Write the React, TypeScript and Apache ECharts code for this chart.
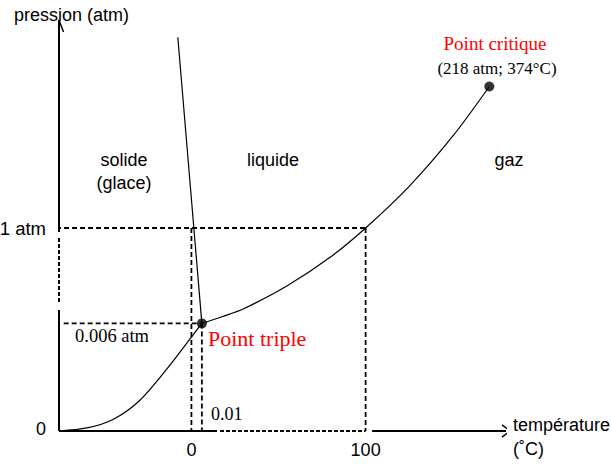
import React, { useEffect, useRef } from "react";
import * as echarts from "echarts";

// Schematic phase diagram of water (axes not to scale)
// Temperature in schematic °C units, pressure in schematic atm units.
const sublimationT = [-76, -60, -45, -30, -15, 0, 6];
const sublimationP = [0, 0.015, 0.057, 0.148, 0.296, 0.463, 0.53];
const vaporisationT = [6, 18, 30, 55, 80, 100, 125, 150, 171];
const vaporisationP = [0.53, 0.564, 0.602, 0.715, 0.858, 1.0, 1.205, 1.452, 1.697];
const fusionT = [6, -7.8];
const fusionP = [0.53, 1.94];
const triplePoint = [6, 0.53];
const criticalPoint = [171, 1.697];
const xTickValues = [0, 100];
const xTickLabels = ["0", "100"];
const yTickValues = [0, 1];
const yTickLabels = ["{s|0}", "{b|1 atm}"];

// axis drawing (origin of the schematic axes)
const originT = -76;
const yAxisSolidTop = [2.025, 0.98];
const yAxisDashed = [0.951, 0.635];
const yAxisSolidBottom = [0.596, 0];
const xAxisSolidLeft = [-76, 14.7];
const xAxisDashed = [16.4, 100];
const xAxisSolidRight = [103.7, 182.9];

const zip = (a: number[], b: number[]) => a.map((v, i) => [v, b[i]]);

const SANS = "Liberation Sans, Arial, sans-serif";
const SERIF = "Liberation Serif, Times New Roman, serif";

function lineSeries(data: number[][], dashed: boolean | number[], width: number) {
  return {
    type: "line",
    data,
    showSymbol: false,
    symbol: "none",
    clip: false,
    silent: true,
    lineStyle: {
      color: "#000",
      width,
      type: dashed === true ? [5, 3] : dashed === false ? "solid" : dashed,
    },
  };
}

export default function App() {
  const ref = useRef<HTMLDivElement>(null);
  useEffect(() => {
    if (!ref.current) return;
    const chart = echarts.init(ref.current, undefined, { renderer: "svg" });
    const series: any[] = [
      // axes
      lineSeries([[originT, yAxisSolidTop[0]], [originT, yAxisSolidTop[1]]], false, 2),
      lineSeries([[originT, yAxisDashed[0]], [originT, yAxisDashed[1]]], [4, 2], 2),
      lineSeries([[originT, yAxisSolidBottom[0]], [originT, yAxisSolidBottom[1]]], false, 2),
      lineSeries([[xAxisSolidLeft[0], 0], [xAxisSolidLeft[1], 0]], false, 2),
      lineSeries([[xAxisDashed[0], 0], [xAxisDashed[1], 0]], [4, 2], 2),
      lineSeries([[xAxisSolidRight[0], 0], [xAxisSolidRight[1], 0]], false, 2),
      // arrow heads
      lineSeries([[originT - 2.6, 1.966], [originT, 2.025], [originT + 2.6, 1.966]], false, 1.5),
      lineSeries([[178.3, 0.03], [182.9, 0], [178.3, -0.03]], false, 1.5),
      // guide lines
      lineSeries([[originT - 1.7, 1], [100, 1]], true, 1.8),
      lineSeries([[0, 1], [0, 0]], true, 1.8),
      lineSeries([[triplePoint[0], triplePoint[1]], [triplePoint[0], 0]], true, 1.8),
      lineSeries([[100, 1], [100, 0]], true, 1.8),
      lineSeries([[originT + 2.7, triplePoint[1]], [triplePoint[0], triplePoint[1]]], true, 1.8),
      // phase boundaries
      { ...lineSeries(zip(sublimationT, sublimationP), false, 1.2), smooth: 0.3 },
      { ...lineSeries(zip(vaporisationT, vaporisationP), false, 1.2), smooth: 0.3 },
      lineSeries(zip(fusionT, fusionP), false, 1.2),
      {
        type: "scatter",
        data: [triplePoint, criticalPoint],
        symbolSize: 10,
        itemStyle: { color: "#000" },
        silent: true,
        clip: false,
      },
    ];

    chart.setOption({
      animation: false,
      grid: { left: 59, right: 106, top: 25, bottom: 33, containLabel: false, outerBoundsMode: "none" },
      xAxis: {
        type: "value",
        min: -76,
        max: 180,
        axisLine: { show: false },
        axisTick: { show: false },
        splitLine: { show: false },
        axisLabel: {
          customValues: xTickValues,
          formatter: (v: number) => xTickLabels[xTickValues.indexOf(v)] ?? "",
          margin: 10,
          color: "#000",
          fontFamily: SANS,
          fontSize: 18,
        },
      },
      yAxis: {
        type: "value",
        min: 0,
        max: 2,
        axisLine: { show: false },
        axisTick: { show: false },
        splitLine: { show: false },
        axisLabel: {
          customValues: yTickValues,
          formatter: (v: number) => yTickLabels[yTickValues.indexOf(v)] ?? "",
          margin: 13,
          color: "#000",
          fontFamily: SANS,
          fontSize: 18,
          rich: {
            s: { fontSize: 18, fontFamily: SANS, color: "#000", padding: [0, 0, 5, 0] },
            b: { fontSize: 18.5, fontFamily: SANS, color: "#000" },
          },
        },
      },
      graphic: [
        { type: "text", x: 14, y: 15, style: { text: "pression (atm)", font: `18px ${SANS}`, fill: "#000", textVerticalAlign: "middle" } },
        { type: "text", x: 495, y: 43, style: { text: "Point critique", font: `19px ${SERIF}`, fill: "#ff0000", textAlign: "center", textVerticalAlign: "middle" } },
        { type: "text", x: 497, y: 68, style: { text: "(218 atm; 374°C)", font: `17px ${SERIF}`, fill: "#000", textAlign: "center", textVerticalAlign: "middle" } },
        { type: "text", x: 124, y: 160, style: { text: "solide", font: `18px ${SANS}`, fill: "#000", textAlign: "center", textVerticalAlign: "middle" } },
        { type: "text", x: 124, y: 183, style: { text: "(glace)", font: `18px ${SANS}`, fill: "#000", textAlign: "center", textVerticalAlign: "middle" } },
        { type: "text", x: 273, y: 160, style: { text: "liquide", font: `18px ${SANS}`, fill: "#000", textAlign: "center", textVerticalAlign: "middle" } },
        { type: "text", x: 509, y: 160, style: { text: "gaz", font: `18px ${SANS}`, fill: "#000", textAlign: "center", textVerticalAlign: "middle" } },
        { type: "text", x: 75, y: 336, style: { text: "0.006 atm", font: `18.5px ${SERIF}`, fill: "#000", textVerticalAlign: "middle" } },
        { type: "text", x: 208, y: 338, style: { text: "Point triple", font: `22px ${SERIF}`, fill: "#ff0000", textVerticalAlign: "middle" } },
        { type: "text", x: 211, y: 414, style: { text: "0.01", font: `18px ${SERIF}`, fill: "#000", textVerticalAlign: "middle" } },
        { type: "text", x: 513, y: 425, style: { text: "température", font: `18px ${SANS}`, fill: "#000", textVerticalAlign: "middle" } },
        { type: "text", x: 513, y: 449, style: { text: "(˚C)", font: `18px ${SANS}`, fill: "#000", textVerticalAlign: "middle" } },
      ],
      series,
    });
    return () => chart.dispose();
  }, []);
  return <div ref={ref} style={{ width: 611, height: 464, position: "fixed", left: 0, top: 0, background: "#fff" }} />;
}
